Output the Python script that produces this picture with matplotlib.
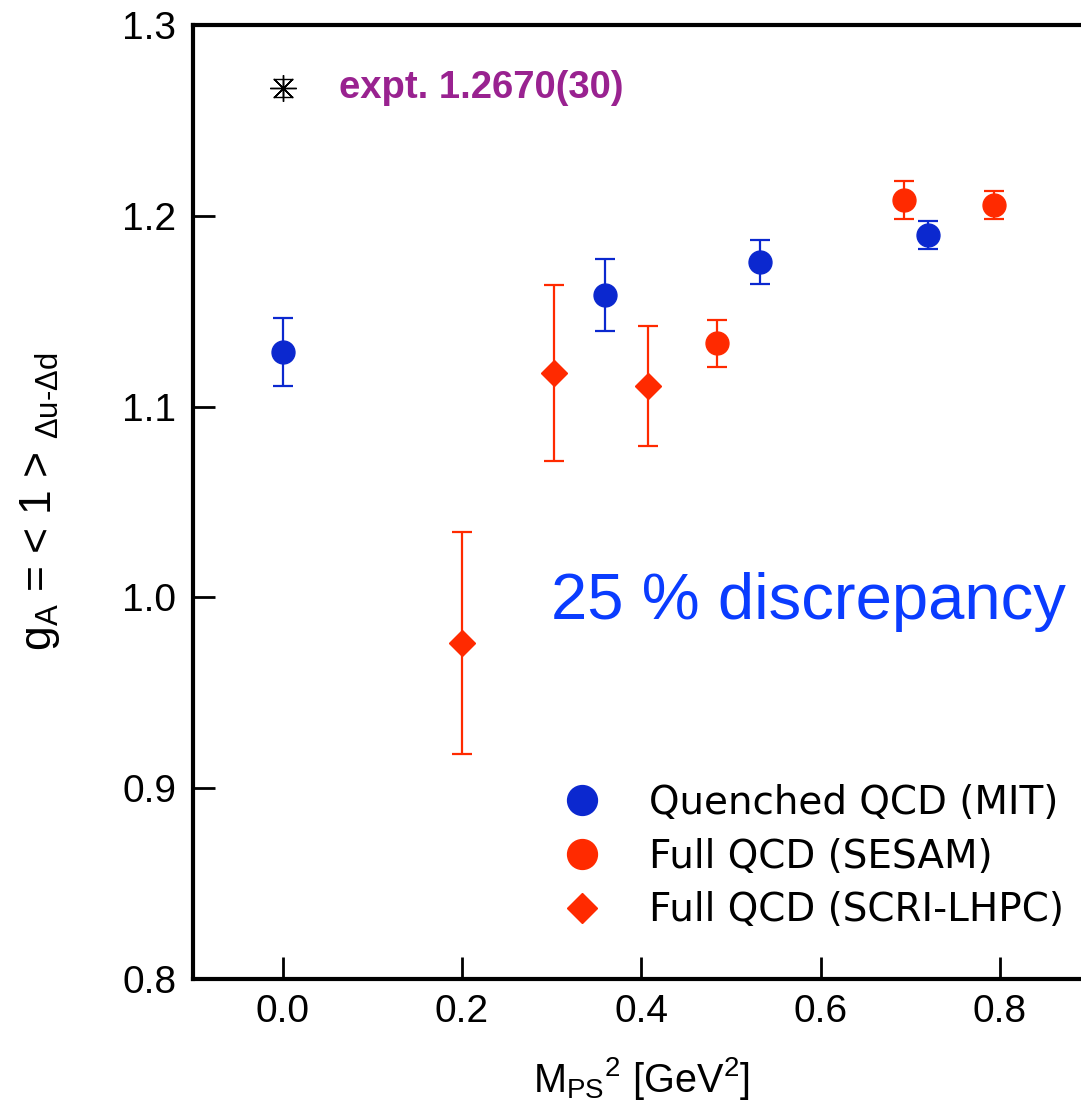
import numpy as np
import matplotlib
matplotlib.use('Agg')
import matplotlib.pyplot as plt
from matplotlib.lines import Line2D

plt.rcParams['font.family'] = ['Liberation Sans', 'DejaVu Sans']
plt.rcParams['mathtext.fontset'] = 'custom'
plt.rcParams['mathtext.rm'] = 'Liberation Sans'
plt.rcParams['mathtext.it'] = 'Liberation Sans:italic'

# Quenched QCD (MIT)
mit_x = [0.0, 0.360, 0.532, 0.720]
mit_y = [1.1286, 1.1585, 1.1758, 1.1900]
mit_err = [0.018, 0.019, 0.0115, 0.0075]

# Full QCD (SESAM)
sesam_x = [0.485, 0.693, 0.794]
sesam_y = [1.1333, 1.2083, 1.2057]
sesam_err = [0.0123, 0.0100, 0.0075]

# Full QCD (SCRI-LHPC)
scri_x = [0.200, 0.303, 0.407]
scri_y = [0.9761, 1.1176, 1.1108]
scri_err = [0.058, 0.046, 0.0315]

# experiment
expt_x = [0.0]
expt_y = [1.2670]
expt_err = [0.0030]

xticks = [0.0, 0.2, 0.4, 0.6, 0.8]
yticks = [0.8, 0.9, 1.0, 1.1, 1.2, 1.3]

blue = '#0b28cf'
red = '#ff2a00'

fig = plt.figure(figsize=(10.81, 11.08), dpi=100)
ax = fig.add_axes([193/1081, 129/1108, 896.5/1081, 954/1108])

ax.errorbar(mit_x, mit_y, yerr=mit_err, fmt='o', color=blue, ms=16.5,
            elinewidth=1.6, capsize=7, capthick=1.6, zorder=3)
ax.errorbar(sesam_x, sesam_y, yerr=sesam_err, fmt='o', color=red, ms=16.5,
            elinewidth=1.6, capsize=7, capthick=1.6, zorder=3)
ax.errorbar(scri_x, scri_y, yerr=scri_err, fmt='D', color=red, ms=13,
            elinewidth=1.6, capsize=7, capthick=1.6, zorder=3)
ax.errorbar(expt_x, expt_y, yerr=[e*1.6 for e in expt_err], fmt='none', ecolor='k',
            elinewidth=1.0, capsize=7, capthick=1.0, zorder=3)
ax.plot(expt_x, expt_y, marker=(8, 2, 0), ms=19, mew=1.0, color='k', ls='none', zorder=4)

ax.text(0.0626, 1.267, 'expt. 1.2670(30)', color='#992290', fontsize=27.5,
        fontweight='bold', ha='left', va='center')
ax.text(0.299, 0.9887, '25 % discrepancy', color='#0a3cff', fontsize=47,
        ha='left', va='baseline')

ax.set_xlim(-0.1, 0.9)
ax.set_ylim(0.8, 1.3)
ax.set_xticks(xticks)
ax.set_yticks(yticks)
ax.set_xticklabels(['%.1f' % v for v in xticks])
ax.set_yticklabels(['%.1f' % v for v in yticks])
ax.tick_params(direction='in', length=16, width=2, labelsize=28, pad=11)
ax.tick_params(axis='y', pad=12)
for s in ['left', 'bottom', 'top', 'right']:
    ax.spines[s].set_linewidth(3)

ax.set_xlabel(r'M$_{\rm PS}$$^{2}$ [GeV$^{2}$]', fontsize=28.5, labelpad=18)
ax.set_ylabel(r'g$_{\rm A}$ = < 1 > $_{\rm \Delta u\text{-}\Delta d}$', fontsize=32)
ax.yaxis.set_label_coords(-0.146, 0.5)

handles = [
    Line2D([], [], marker='o', color=blue, ls='none', ms=21.5),
    Line2D([], [], marker='o', color=red, ls='none', ms=21.5),
    Line2D([], [], marker='D', color=red, ls='none', ms=15),
]
labels = ['Quenched QCD (MIT)', 'Full QCD (SESAM)', 'Full QCD (SCRI-LHPC)']
ax.legend(handles, labels, loc='upper left', bbox_to_anchor=((563-193)/896.5, (979-784)/954),
          frameon=False, prop={'family': 'DejaVu Sans', 'size': 28}, handlelength=1.0,
          handletextpad=1.2, labelspacing=0.4, borderpad=0, borderaxespad=0, numpoints=1)

fig.savefig('out.png', dpi=100)
